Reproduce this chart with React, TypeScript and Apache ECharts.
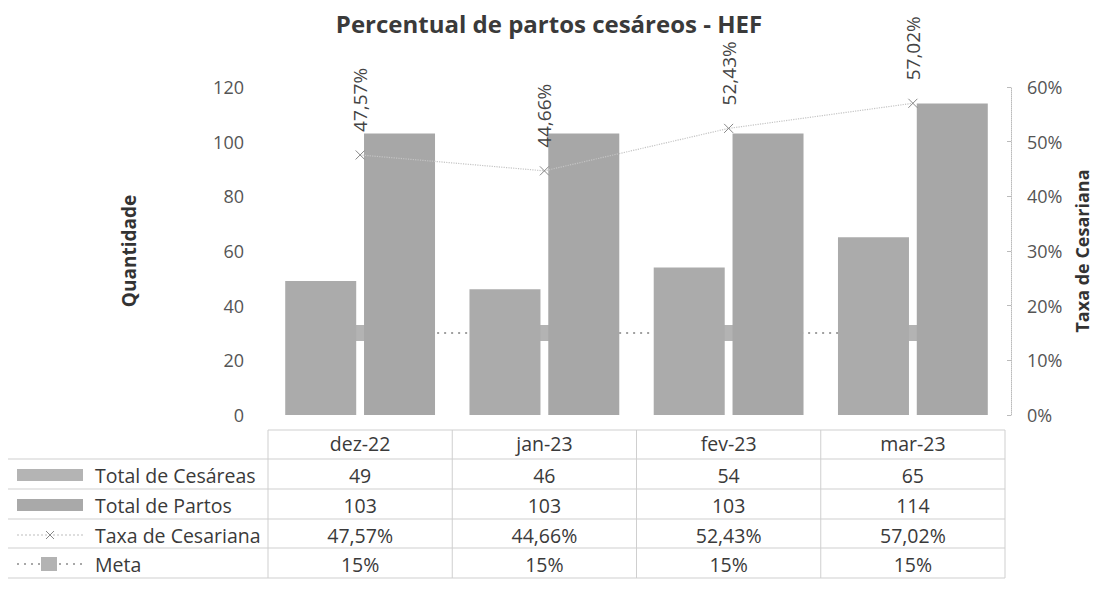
import React, { useEffect, useRef } from "react";
import * as echarts from "echarts";

const categories = ["dez-22", "jan-23", "fev-23", "mar-23"];
const cesareas = [49, 46, 54, 65];
const partos = [103, 103, 103, 114];
const taxa = [0.4757, 0.4466, 0.5243, 0.5702];
const meta = [0.15, 0.15, 0.15, 0.15];
const leftTicks = [0, 20, 40, 60, 80, 100, 120];
const rightTicks = [0, 0.1, 0.2, 0.3, 0.4, 0.5, 0.6];
const seriesNames = ["Total de Cesáreas", "Total de Partos", "Taxa de Cesariana", "Meta"];

const FONT = "'Open Sans', 'Noto Sans', sans-serif";
const TXT = "#3a3a3a";
const pct = (v: number) => (v * 100).toFixed(2).replace(".", ",") + "%";
const pct0 = (v: number) => Math.round(v * 100) + "%";

export default function App() {
  const ref = useRef<HTMLDivElement>(null);
  useEffect(() => {
    if (!ref.current) return;
    const chart = echarts.init(ref.current, null, { renderer: "svg" });
    const gridLeft = 268;
    const gridRight = 93;
    const gridTop = 87;
    const gridBottom = 186;
    const W = 1098;
    chart.setOption({
      animation: false,
      backgroundColor: "#ffffff",
      title: {
        text: "Percentual de partos cesáreos - HEF",
        left: "center",
        top: 6,
        textStyle: { fontFamily: FONT, fontSize: 24, fontWeight: "bold", color: "#3a3a3a" },
      },
      grid: {
        left: gridLeft,
        right: gridRight,
        top: gridTop,
        bottom: gridBottom,
        containLabel: false,
        outerBoundsMode: "none",
      },
      xAxis: {
        type: "category",
        data: categories,
        axisLine: { show: false },
        axisTick: { show: false },
        axisLabel: { show: false },
      },
      yAxis: [
        {
          type: "value",
          min: leftTicks[0],
          max: leftTicks[leftTicks.length - 1],
          interval: 20,
          name: "Quantidade",
          nameLocation: "middle",
          nameGap: 130,
          nameRotate: 90,
          nameTextStyle: { fontFamily: FONT, fontSize: 19, fontWeight: "bold", color: "#333" },
          axisLine: { show: false },
          axisTick: { show: false },
          splitLine: { show: false },
          axisLabel: { fontFamily: FONT, fontSize: 18, color: "#555", margin: 24 },
        },
        {
          type: "value",
          min: rightTicks[0],
          max: rightTicks[rightTicks.length - 1],
          interval: 0.1,
          position: "right",
          offset: 6,
          name: "Taxa de Cesariana",
          nameLocation: "middle",
          nameGap: 62,
          nameRotate: 90,
          nameTextStyle: { fontFamily: FONT, fontSize: 18, fontWeight: "bold", color: "#333" },
          axisLine: { show: true, lineStyle: { color: "#bbb", type: "dotted", width: 1 } },
          axisTick: { show: true, inside: true, length: 4, lineStyle: { color: "#bbb" } },
          splitLine: { show: false },
          axisLabel: { fontFamily: FONT, fontSize: 18, color: "#555", margin: 16, formatter: (v: number) => pct0(v) },
        },
      ],
      series: [
        {
          name: seriesNames[0],
          type: "bar",
          data: cesareas,
          barWidth: 71,
          barGap: "11%",
          itemStyle: { color: "#ababab" },
          z: 2,
        },
        {
          name: seriesNames[1],
          type: "bar",
          data: partos,
          barWidth: 71,
          itemStyle: { color: "#a7a7a7" },
          z: 2,
        },
        {
          name: seriesNames[2],
          type: "line",
          yAxisIndex: 1,
          data: taxa,
          symbol: "path://M0,0L10,10M10,0L0,10",
          symbolSize: 9,
          itemStyle: { color: "rgba(0,0,0,0)", borderColor: "#888", borderWidth: 1 },
          lineStyle: { color: "#c4c4c4", width: 1.2, type: "dotted" },
          label: {
            show: true,
            position: "top",
            rotate: 90,
            align: "left",
            verticalAlign: "middle",
            distance: 18,
            fontFamily: FONT,
            fontSize: 19,
            color: "#444",
            formatter: (p: any) => pct(p.value),
          },
          z: 4,
        },
        {
          name: seriesNames[3],
          type: "line",
          yAxisIndex: 1,
          data: meta,
          symbol: "rect",
          symbolSize: [20, 16],
          itemStyle: { color: "#b3b3b3" },
          lineStyle: { color: "#a0a0a0", width: 2, type: [2, 5] },
          z: 1,
        },
      ],
    });

    // Data table built from the data arrays
    const cx = categories.map((_, i) => chart.convertToPixel({ xAxisIndex: 0 }, i) as number);
    const colW = (W - gridLeft - gridRight) / categories.length;
    const tableLeft = gridLeft;
    const tableRight = W - gridRight;
    const headerTop = 430;
    const rowTops = [459, 489, 519, 548];
    const tableBottom = 578;
    const rowH = 30;
    const lineColor = "#cfcfcf";
    const g: any[] = [];
    const hline = (x1: number, x2: number, y: number) =>
      g.push({ type: "line", shape: { x1, y1: y, x2, y2: y }, style: { stroke: lineColor, lineWidth: 1 }, silent: true });
    const vline = (x: number, y1: number, y2: number) =>
      g.push({ type: "line", shape: { x1: x, y1, x2: x, y2 }, style: { stroke: lineColor, lineWidth: 1 }, silent: true });
    hline(tableLeft, tableRight, headerTop);
    rowTops.forEach((y) => hline(5, tableRight, y));
    hline(5, tableRight, tableBottom);
    vline(5, rowTops[0], tableBottom);
    for (let i = 0; i <= categories.length; i++) vline(tableLeft + i * colW, headerTop, tableBottom);

    const txt = (x: number, y: number, text: string, align: string) =>
      g.push({
        type: "text",
        x,
        y,
        style: { text, fill: TXT, font: `19.5px ${FONT}`, align, verticalAlign: "middle" },
        silent: true,
      });
    categories.forEach((c, i) => txt(cx[i], headerTop + 13, c, "center"));
    const rows: string[][] = [
      cesareas.map((v) => String(v)),
      partos.map((v) => String(v)),
      taxa.map(pct),
      meta.map(pct0),
    ];
    rows.forEach((r, ri) => {
      const yc = rowTops[ri] + rowH / 2 + 1;
      txt(95, yc, seriesNames[ri], "left");
      r.forEach((s, i) => txt(cx[i], yc, s, "center"));
    });
    // legend keys
    const k0 = rowTops[0] + rowH / 2 + 1;
    const k1 = rowTops[1] + rowH / 2 + 1;
    const k2 = rowTops[2] + rowH / 2 + 1;
    const k3 = rowTops[3] + rowH / 2 + 1;
    g.push({ type: "rect", shape: { x: 17, y: k0 - 6, width: 66, height: 12 }, style: { fill: "#b4b4b4" }, silent: true });
    g.push({ type: "rect", shape: { x: 17, y: k1 - 6, width: 66, height: 12 }, style: { fill: "#a9a9a9" }, silent: true });
    g.push({ type: "line", shape: { x1: 17, y1: k2, x2: 83, y2: k2 }, style: { stroke: "#bdbdbd", lineWidth: 1, lineDash: [2, 2] }, silent: true });
    g.push({ type: "line", shape: { x1: 46, y1: k2 - 4, x2: 54, y2: k2 + 4 }, style: { stroke: "#888", lineWidth: 1 }, silent: true });
    g.push({ type: "line", shape: { x1: 54, y1: k2 - 4, x2: 46, y2: k2 + 4 }, style: { stroke: "#888", lineWidth: 1 }, silent: true });
    g.push({ type: "line", shape: { x1: 17, y1: k3, x2: 83, y2: k3 }, style: { stroke: "#a8a8a8", lineWidth: 2, lineDash: [2, 5] }, silent: true });
    g.push({ type: "rect", shape: { x: 41, y: k3 - 7, width: 16, height: 14 }, style: { fill: "#b3b3b3" }, silent: true });

    chart.setOption({ graphic: g });
    return () => chart.dispose();
  }, []);
  return <div ref={ref} style={{ width: 1098, height: 601, margin: -8 }} />;
}
